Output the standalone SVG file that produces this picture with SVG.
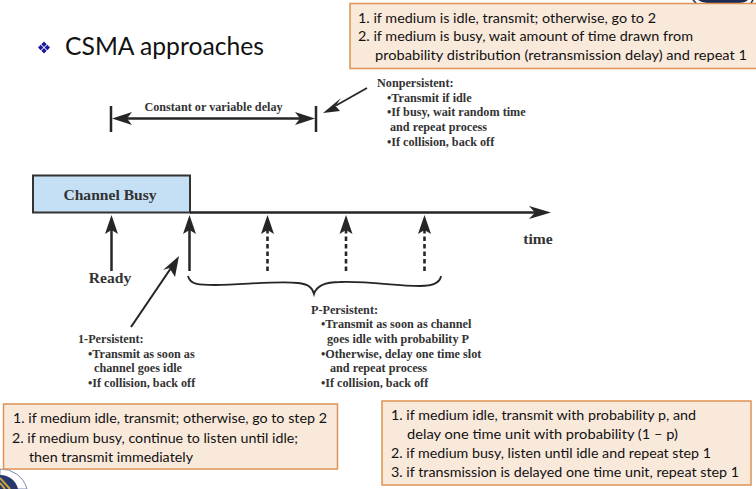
<svg xmlns="http://www.w3.org/2000/svg" width="756" height="489" viewBox="0 0 756 489">
<style>
.note{fill:#f9e9db;stroke:#dd9353;stroke-width:1.5}
.g{font-family:"Lato","Open Sans",sans-serif;font-size:14.2px;fill:#111}
.s{font-family:"Liberation Serif",serif;font-weight:bold;font-size:12.2px;fill:#333}
.l{font-family:"Liberation Serif",serif;font-weight:bold;font-size:15.6px;fill:#333}
.c{fill:none;stroke:#262626;stroke-width:2.5}
.d{fill:none;stroke:#262626;stroke-width:2.6;stroke-dasharray:4.500 3}
.h{fill:#262626}
</style>
<defs>
<path id="head" class="h" d="M0 0L6.500 19L0 15L-6.500 19Z"/>
</defs>
<rect width="756" height="489" fill="#fff"/>
<g id="logo-top"><path d="M698 0Q702 3 707 3H739Q745 3 748 0Z" fill="#1d2a55"/><path d="M693 0L696 3M753 0L751 3" stroke="#1d2a55" stroke-width="1.500"/></g>
<g id="logo-bottom"><path d="M0 469A27 27 0 0 1 27 489H0Z" fill="#fff" stroke="#7f8ab2" stroke-width="1"/><path d="M0 475A18 18 0 0 1 18 489H0Z" fill="#27386f"/><path d="M0 478L10 489M0 483L5 489" stroke="#c9a33a" stroke-width="2"/></g>
<g id="title"><path d="M44 41.500l2.700 2.700-2.700 2.700-2.700-2.700zM44 48l2.700 2.700-2.700 2.700-2.700-2.700zM40.700 44.800l2.700 2.700-2.700 2.700-2.700-2.700zM47.300 44.800l2.700 2.700-2.700 2.700-2.700-2.700z" fill="#1a1a9c"/>
<text x="65" y="55" font-family="Lato,'Open Sans',sans-serif" font-size="25px" fill="#111" textLength="199" lengthAdjust="spacingAndGlyphs">CSMA approaches</text></g>
<g id="note-nonpersistent"><rect class="note" x="350" y="3.500" width="407" height="65"/>
<text class="g" x="358" y="23" textLength="298" lengthAdjust="spacingAndGlyphs">1. if medium is idle, transmit; otherwise, go to 2</text>
<text class="g" x="358" y="41" textLength="335" lengthAdjust="spacingAndGlyphs">2. if medium is busy, wait amount of time drawn from</text>
<text class="g" x="375" y="60" textLength="372" lengthAdjust="spacingAndGlyphs">probability distribution (retransmission delay) and repeat 1</text></g>
<g id="note-1persistent"><rect class="note" x="3.500" y="404" width="334" height="65"/>
<text class="g" x="13" y="423" textLength="314" lengthAdjust="spacingAndGlyphs">1. if medium idle, transmit; otherwise, go to step 2</text>
<text class="g" x="12" y="443" textLength="286" lengthAdjust="spacingAndGlyphs">2. if medium busy, continue to listen until idle;</text>
<text class="g" x="29" y="461.500" textLength="164" lengthAdjust="spacingAndGlyphs">then transmit immediately</text></g>
<g id="note-ppersistent"><rect class="note" x="382" y="401" width="369" height="84"/>
<text class="g" x="391" y="420" textLength="305" lengthAdjust="spacingAndGlyphs">1. if medium idle, transmit with probability p, and</text>
<text class="g" x="407" y="439" textLength="271" lengthAdjust="spacingAndGlyphs">delay one time unit with probability (1 – p)</text>
<text class="g" x="391" y="458" textLength="320" lengthAdjust="spacingAndGlyphs">2. if medium busy, listen until idle and repeat step 1</text>
<text class="g" x="391" y="477" textLength="348" lengthAdjust="spacingAndGlyphs">3. if transmission is delayed one time unit, repeat step 1</text></g>
<g id="channel-busy"><rect x="33" y="175.500" width="157" height="37" fill="#c5e0f5" stroke="#333" stroke-width="2"/>
<text class="l" x="110" y="200" text-anchor="middle">Channel Busy</text></g>
<g id="connectors">
<path class="c" d="M111 106V132M316 106V132"/>
<path class="c" d="M125 118.500H302"/>
<path class="h" d="M112 118.500L132 112L127 118.500L132 125ZM315 118.500L295 112L300 118.500L295 125Z"/>
<path class="h" d="M323 113L341 98L335.500 106L340 111Z"/>
<path class="c" d="M336 105.500L367 88" style="stroke-width:1.800"/>
<path class="c" d="M190 212.500H535"/>
<path class="h" d="M551 212.500L529 206L535 212.500L529 219Z"/>
<path class="c" d="M111.500 271V225"/><use href="#head" x="111.500" y="215"/>
<path class="c" d="M189.500 271V225"/><use href="#head" x="189.500" y="215"/>
<path class="d" d="M267.500 271V230"/><use href="#head" x="267.500" y="215"/>
<path class="d" d="M346 271V230"/><use href="#head" x="346" y="215"/>
<path class="d" d="M424.500 271V230"/><use href="#head" x="424.500" y="215"/>
<path class="c" d="M131 327L171 268" style="stroke-width:2.100"/>
<path class="h" d="M179 256L175 277L169.500 268L163 270Z"/>
<path d="M188 276C190 285 200 285 215 285C250 284 280 281 298 283C308 284 312 287 314 294C316 287 322 282 340 282C370 281 395 286 420 286C432 286 440 283 441 276" fill="none" stroke="#262626" stroke-width="1.800"/>
</g>
<g id="label-delay"><text class="s" x="213.500" y="111" text-anchor="middle">Constant or variable delay</text></g>
<g id="label-ready"><text class="l" x="110" y="283" text-anchor="middle">Ready</text></g>
<g id="label-time"><text class="l" x="538" y="244" text-anchor="middle">time</text></g>
<g id="label-nonpersistent">
<text class="s" x="377" y="87">Nonpersistent:</text>
<text class="s" x="387" y="102">•Transmit if idle</text>
<text class="s" x="387" y="116">•If busy, wait random time</text>
<text class="s" x="390" y="131">and repeat process</text>
<text class="s" x="387" y="146">•If collision, back off</text></g>
<g id="label-1persistent">
<text class="s" x="78" y="343">1-Persistent:</text>
<text class="s" x="88" y="358">•Transmit as soon as</text>
<text class="s" x="94" y="372">channel goes idle</text>
<text class="s" x="88" y="387">•If collision, back off</text></g>
<g id="label-ppersistent">
<text class="s" x="311" y="314">P-Persistent:</text>
<text class="s" x="321" y="328">•Transmit as soon as channel</text>
<text class="s" x="327" y="343">goes idle with probability P</text>
<text class="s" x="321" y="358">•Otherwise, delay one time slot</text>
<text class="s" x="330" y="372">and repeat process</text>
<text class="s" x="321" y="387">•If collision, back off</text></g>
</svg>
